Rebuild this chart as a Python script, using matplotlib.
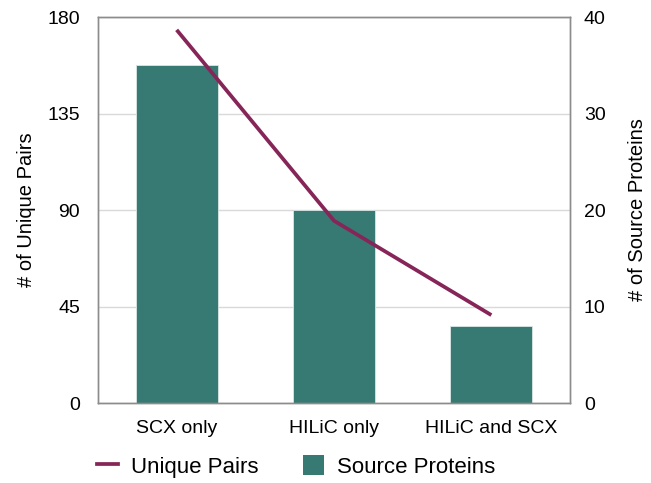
import matplotlib
matplotlib.use('Agg')
import matplotlib.pyplot as plt
from matplotlib.lines import Line2D
from matplotlib.patches import Patch

# Data
categories = ['SCX only', 'HILiC only', 'HILiC and SCX']
unique_pairs = [174, 85, 41]
source_proteins = [35, 20, 8]

bar_color = '#367a73'
line_color = '#862658'

plt.rcParams['font.family'] = ['Liberation Sans', 'DejaVu Sans']

fig = plt.figure(figsize=(6.51, 4.83), dpi=100)
ax = fig.add_axes([0.1505, 0.1656, 0.7251, 0.7992])
ax2 = ax.twinx()

x = list(range(len(categories)))

# bars on right axis, behind the line
ax2.bar(x, source_proteins, width=0.52, color=bar_color, edgecolor='#d9e6e4', linewidth=0.6, zorder=2)
ax2.set_ylim(0, 40)
ax2.set_yticks([0, 10, 20, 30, 40])
ax2.grid(axis='y', color='#d9d9d9', linewidth=1, zorder=0)
ax2.set_axisbelow(True)
ax2.set_ylabel('# of Source Proteins', fontsize=14.5)
ax2.yaxis.set_label_coords(1.123, 0.5)

# line on left axis, on top
ax.set_zorder(ax2.get_zorder() + 1)
ax.patch.set_visible(False)
ax.plot(x, unique_pairs, color=line_color, linewidth=2.7, solid_capstyle='butt')
ax.set_ylim(0, 180)
ax.set_yticks([0, 45, 90, 135, 180])
ax.set_xlim(-0.5, 2.5)
ax.set_xticks(x)
ax.set_xticklabels(categories)
ax.set_ylabel('# of Unique Pairs', fontsize=14.5)
ax.yaxis.set_label_coords(-0.132, 0.5)

for a in (ax, ax2):
    a.tick_params(length=0, labelsize=14)
    for s in a.spines.values():
        s.set_color('#8c8c8c')
        s.set_linewidth(1)
ax.tick_params(axis='y', pad=13)
ax2.tick_params(axis='y', pad=10)
ax.tick_params(axis='x', pad=12)

handles = [Line2D([0], [0], color=line_color, linewidth=2.7),
           Patch(facecolor=bar_color, edgecolor='none')]
fig.legend(handles, ['Unique Pairs', 'Source Proteins'], loc='center',
           bbox_to_anchor=(0.455, 0.034), ncol=2, frameon=False, fontsize=16,
           handlelength=0.95, handleheight=0.95, columnspacing=2.0, handletextpad=0.6)

fig.savefig('out.png', dpi=100)
